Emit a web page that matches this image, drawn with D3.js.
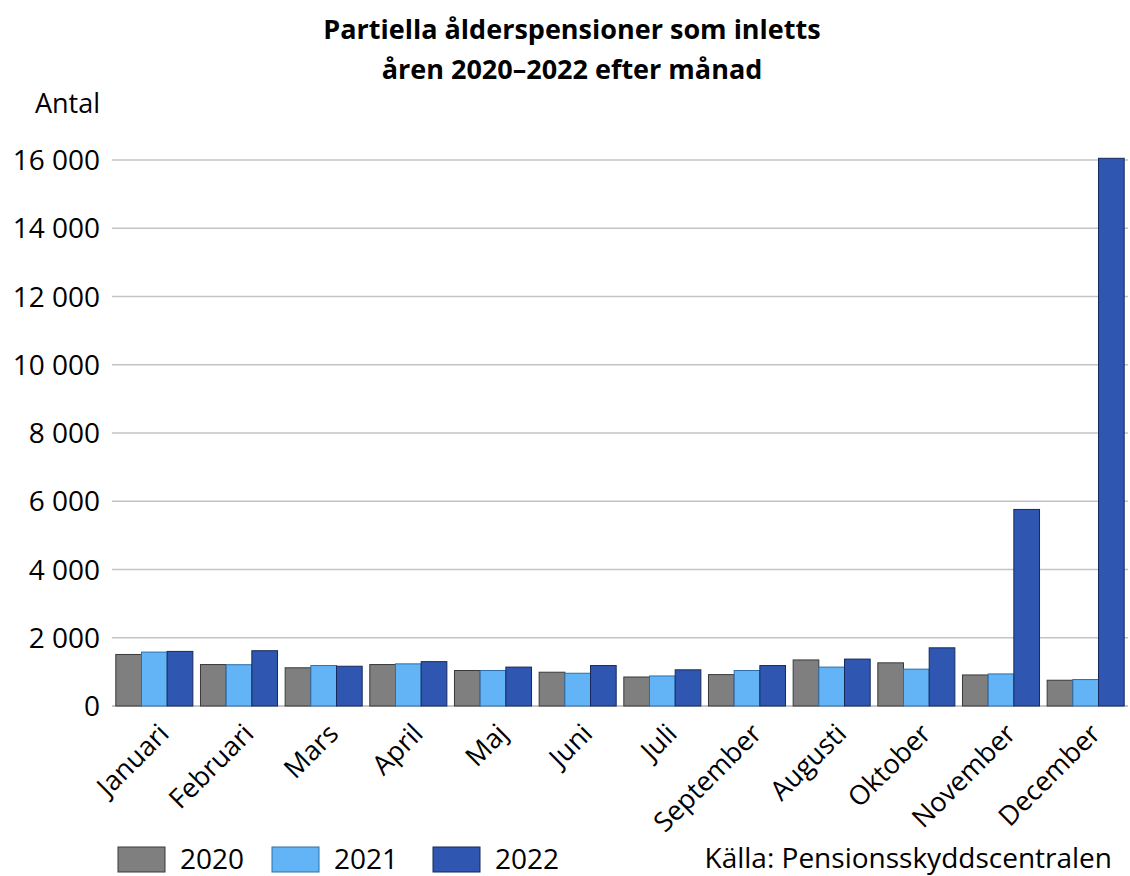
<!DOCTYPE html>
<html>
<head>
<meta charset="utf-8">
<script src="https://d3js.org/d3.v7.min.js"></script>
<style>
  body { margin: 0; background: #fff; }
  text { font-family: "Open Sans", sans-serif; fill: #000; }
</style>
</head>
<body>
<div id="chart"></div>
<script>
// months in the order of the original chart
var months = ['Januari', 'Februari', 'Mars', 'April', 'Maj', 'Juni', 'Juli', 'September', 'Augusti', 'Oktober', 'November', 'December'];
var years = ['2020', '2021', '2022'];
var v2020 = [1510, 1215, 1120, 1215, 1040, 990, 850, 920, 1350, 1265, 910, 755];
var v2021 = [1580, 1210, 1185, 1235, 1040, 960, 880, 1040, 1140, 1080, 940, 775];
var v2022 = [1600, 1620, 1165, 1300, 1140, 1185, 1060, 1185, 1375, 1705, 5760, 16050];
var yTicks = [0, 2000, 4000, 6000, 8000, 10000, 12000, 14000, 16000];

var colors = {'2020': '#7f7f7f', '2021': '#63b4f6', '2022': '#2f57b1'};
var strokes = {'2020': '#3a3a3a', '2021': '#2f6ea8', '2022': '#16295a'};

var width = 1130, height = 876;
var margin = {top: 160, right: 2, bottom: 170, left: 112};

var svg = d3.select('#chart').append('svg')
    .attr('width', width)
    .attr('height', height);

var x0 = d3.scaleBand().domain(months)
    .range([margin.left, width - margin.right])
    .paddingInner(0.09).paddingOuter(0.045);
var x1 = d3.scaleBand().domain(years).range([0, x0.bandwidth()]);
var y = d3.scaleLinear().domain([0, 16000]).range([height - margin.bottom, margin.top]);

// gridlines
svg.append('g').selectAll('line')
    .data(yTicks)
    .enter().append('line')
    .attr('x1', margin.left).attr('x2', width - margin.right)
    .attr('y1', function(d) { return y(d); })
    .attr('y2', function(d) { return y(d); })
    .attr('stroke', function(d) { return d === 0 ? '#b5b5b5' : '#c4c4c4'; })
    .attr('stroke-width', 1.5);

// y labels, space as thousands separator
var fmt = function(d) { return d3.format(',')(d).replace(/,/g, ' '); };
svg.append('g').selectAll('text')
    .data(yTicks)
    .enter().append('text')
    .attr('x', 100)
    .attr('y', function(d) { return y(d); })
    .attr('dy', '0.36em')
    .attr('text-anchor', 'end')
    .style('font-size', '28px')
    .text(fmt);

svg.append('text')
    .attr('x', 100).attr('y', 113)
    .attr('text-anchor', 'end')
    .style('font-size', '27px')
    .text('Antal');

// bars
var rows = months.map(function(m, i) {
    return {month: m, vals: [
        {year: '2020', value: v2020[i]},
        {year: '2021', value: v2021[i]},
        {year: '2022', value: v2022[i]}
    ]};
});

var groups = svg.selectAll('.grp')
    .data(rows)
    .enter().append('g')
    .attr('class', 'grp')
    .attr('transform', function(d) { return 'translate(' + x0(d.month) + ',0)'; });

groups.selectAll('rect')
    .data(function(d) { return d.vals; })
    .enter().append('rect')
    .attr('x', function(d) { return x1(d.year); })
    .attr('y', function(d) { return y(d.value); })
    .attr('width', x1.bandwidth())
    .attr('height', function(d) { return y(0) - y(d.value); })
    .attr('fill', function(d) { return colors[d.year]; })
    .attr('stroke', function(d) { return strokes[d.year]; })
    .attr('stroke-width', 1);

// x labels rotated
svg.append('g').selectAll('text')
    .data(months)
    .enter().append('text')
    .attr('transform', function(d) {
        return 'translate(' + (x0(d) + x0.bandwidth() / 2 + 2) + ',' + (y(0) + 15) + ') rotate(-45)';
    })
    .attr('text-anchor', 'end')
    .attr('dy', '0.75em')
    .style('font-size', '27px')
    .text(function(d) { return d; });

// title
svg.append('text')
    .attr('x', 572).attr('y', 39)
    .attr('text-anchor', 'middle')
    .style('font-size', '27px').style('font-weight', 'bold')
    .text('Partiella ålderspensioner som inletts');
svg.append('text')
    .attr('x', 572).attr('y', 79)
    .attr('text-anchor', 'middle')
    .style('font-size', '27px').style('font-weight', 'bold')
    .text('åren 2020–2022 efter månad');

// legend
var legX = [118, 272, 433];
var legend = svg.selectAll('.legend')
    .data(years)
    .enter().append('g')
    .attr('class', 'legend')
    .attr('transform', function(d, i) { return 'translate(' + legX[i] + ',847)'; });
legend.append('rect')
    .attr('width', 47).attr('height', 25)
    .attr('fill', function(d) { return colors[d]; })
    .attr('stroke', function(d) { return strokes[d]; });
legend.append('text')
    .attr('x', 62).attr('y', 22)
    .style('font-size', '28px')
    .text(function(d) { return d; });

svg.append('text')
    .attr('x', 1112).attr('y', 868)
    .attr('text-anchor', 'end')
    .style('font-size', '28px')
    .text('Källa: Pensionsskyddscentralen');
</script>
</body>
</html>
